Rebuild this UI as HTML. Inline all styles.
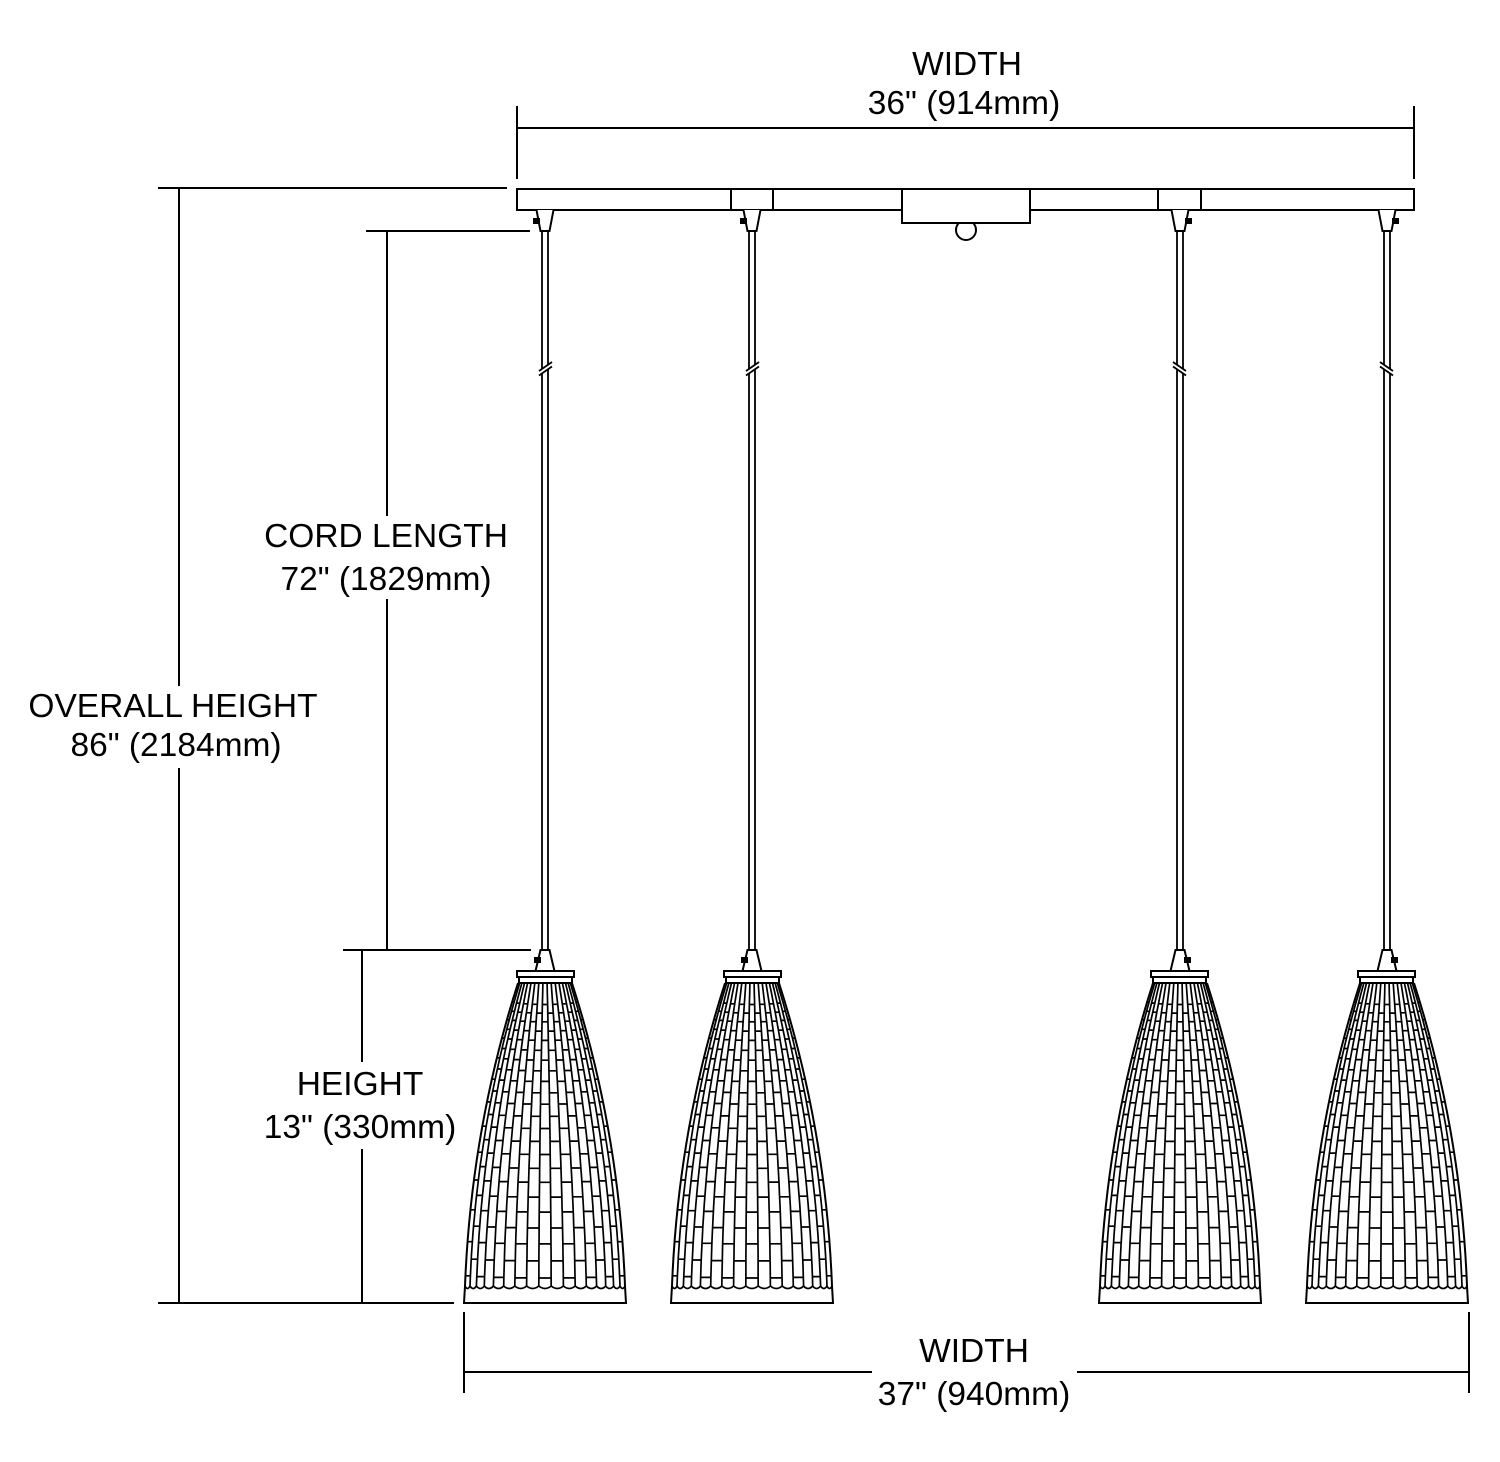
<!DOCTYPE html>
<html>
<head>
<meta charset="utf-8">
<style>
  html,body{margin:0;padding:0;background:#fff;}
  svg{display:block;}
  text{font-family:"Liberation Sans",Arial,sans-serif;font-size:33.5px;fill:#000;text-anchor:middle;}
</style>
</head>
<body>
<svg width="1500" height="1462" viewBox="0 0 1500 1462" xmlns="http://www.w3.org/2000/svg">
  <rect width="1500" height="1462" fill="#fff"/>
  <defs>
    <g id="pend">
      <!-- canopy socket -->
      <path d="M-8.5,210 L-4.5,231 H4.5 L8.5,210" fill="#fff" stroke="#000" stroke-width="2"/>
      <rect x="-12" y="218" width="7" height="6" fill="#000"/>
      <!-- cord -->
      <path d="M-3,231 V950 M3,231 V950" fill="none" stroke="#000" stroke-width="1.8"/>
      <!-- cord break -->
      <polygon points="-5,371 6,363 6,367 -5,375" fill="#fff"/>
      <path d="M-6,371 L7,362 M-6,375.5 L7,366.5" fill="none" stroke="#000" stroke-width="1.8"/>
      <!-- fitter -->
      <path d="M-4.5,950 H4.5 L9.5,971 H-9.5 Z" fill="#fff" stroke="#000" stroke-width="2"/>
      <rect x="-11" y="957" width="7" height="6" fill="#000"/>
      <rect x="-28" y="971" width="57" height="6" fill="#fff" stroke="#000" stroke-width="2"/>
      <rect x="-26" y="977" width="53" height="6" fill="#fff" stroke="#000" stroke-width="2"/>
      <!-- shade outline -->
      <path d="M-27,983 Q-74,1130 -80,1286 L-81,1303 H81 L80,1286 Q74,1130 27,983" fill="none" stroke="#000" stroke-width="2"/>
      <path class="pat" fill="none" stroke="#000" stroke-width="1.7"/>
    </g>
  </defs>

  <!-- canopy bar -->
  <circle cx="966" cy="230" r="10" fill="#fff" stroke="#000" stroke-width="2"/>
  <rect x="517" y="189" width="897" height="21" fill="#fff" stroke="#000" stroke-width="2"/>
  <rect x="731" y="189" width="42" height="21" fill="#fff" stroke="#000" stroke-width="2"/>
  <rect x="1158" y="189" width="43" height="21" fill="#fff" stroke="#000" stroke-width="2"/>
  <rect x="902" y="189" width="128" height="34" fill="#fff" stroke="#000" stroke-width="2"/>

  <!-- pendants -->
  <use href="#pend" transform="translate(545,0)"/>
  <use href="#pend" transform="translate(752,0)"/>
  <use href="#pend" transform="translate(1180,0) scale(-1,1)"/>
  <use href="#pend" transform="translate(1387,0) scale(-1,1)"/>

  <!-- dimension lines -->
  <g stroke="#000" stroke-width="2" fill="none">
    <path d="M517,128 H1414 M517,106 V179 M1414,106 V179"/>
    <path d="M158,188 H507 M158,1303 H454 M179,188 V686 M179,768 V1303"/>
    <path d="M366,231 H530 M387,231 V516 M387,599 V950 M343,950 H531"/>
    <path d="M362,950 V1062 M362,1149 V1303"/>
    <path d="M464,1312 V1393 M1469,1312 V1393 M464,1372 H872 M1077,1372 H1469"/>
  </g>

  <!-- labels -->
  <text x="967" y="75">WIDTH</text>
  <text x="964" y="114">36" (914mm)</text>
  <text x="386" y="547">CORD LENGTH</text>
  <text x="386" y="590">72" (1829mm)</text>
  <text x="173" y="717">OVERALL HEIGHT</text>
  <text x="176" y="756">86" (2184mm)</text>
  <text x="360" y="1095">HEIGHT</text>
  <text x="360" y="1138">13" (330mm)</text>
  <text x="974" y="1362">WIDTH</text>
  <text x="974" y="1405">37" (940mm)</text>
</svg>
<script>
(function(){
  var Y0=983, Y1=1286, N=17;
  function bez(t){ // quadratic bezier of outline: returns [hw,y]
    var hw=(1-t)*(1-t)*27+2*t*(1-t)*74+t*t*80;
    var y=(1-t)*(1-t)*983+2*t*(1-t)*1130+t*t*1286;
    return [hw,y];
  }
  // build lookup y->hw
  var tab=[];
  for(var s=0;s<=400;s++){tab.push(bez(s/400));}
  function hwAt(y){
    if(y<=tab[0][1]) return tab[0][0];
    for(var k=1;k<tab.length;k++){
      if(tab[k][1]>=y){var a=tab[k-1],b=tab[k];var f=(y-a[1])/(b[1]-a[1]);return a[0]+f*(b[0]-a[0]);}
    }
    return tab[tab.length-1][0];
  }
  function u(i){var th=i*Math.PI/N; var c=-Math.cos(th); var l=2*i/N-1; return 0.55*c+0.45*l;}
  function xr(i,y){return hwAt(y)*u(i);}
  var d='';
  for(var i=1;i<N;i++){
    for(var s2=0;s2<=30;s2++){
      var y=Y0+(Y1-Y0)*s2/30;
      d+=(s2===0?'M':'L')+xr(i,y).toFixed(1)+','+y.toFixed(1);
    }
  }
  var rows=[], yy=1002;
  while(yy<1276){rows.push(yy); yy+=16+0.07*(yy-Y0);}
  var mids=[];
  for(var k=0;k<rows.length;k++){
    var nx=(k+1<rows.length)?rows[k+1]:rows[k]+16+0.07*(rows[k]-Y0);
    var m=(rows[k]+nx)/2; if(m<1280) mids.push(m);
  }
  for(var j=0;j<N;j++){
    var ys=(j%2)?mids:rows;
    var sag=2.5*Math.sin((j+0.5)*Math.PI/N);
    for(var q=0;q<ys.length;q++){
      var Y=ys[q]+sag;
      d+='M'+xr(j,Y).toFixed(1)+','+Y.toFixed(1)+'L'+xr(j+1,Y).toFixed(1)+','+Y.toFixed(1);
    }
  }
  for(var j2=0;j2<N;j2++){
    var a=xr(j2,Y1), b=xr(j2+1,Y1);
    if(j2===0) d+='M'+a.toFixed(1)+','+Y1;
    d+='Q'+((a+b)/2).toFixed(1)+','+(Y1+5)+' '+b.toFixed(1)+','+Y1;
  }
  var els=document.querySelectorAll('.pat');
  for(var e=0;e<els.length;e++) els[e].setAttribute('d',d);
})();
</script>
</body>
</html>
